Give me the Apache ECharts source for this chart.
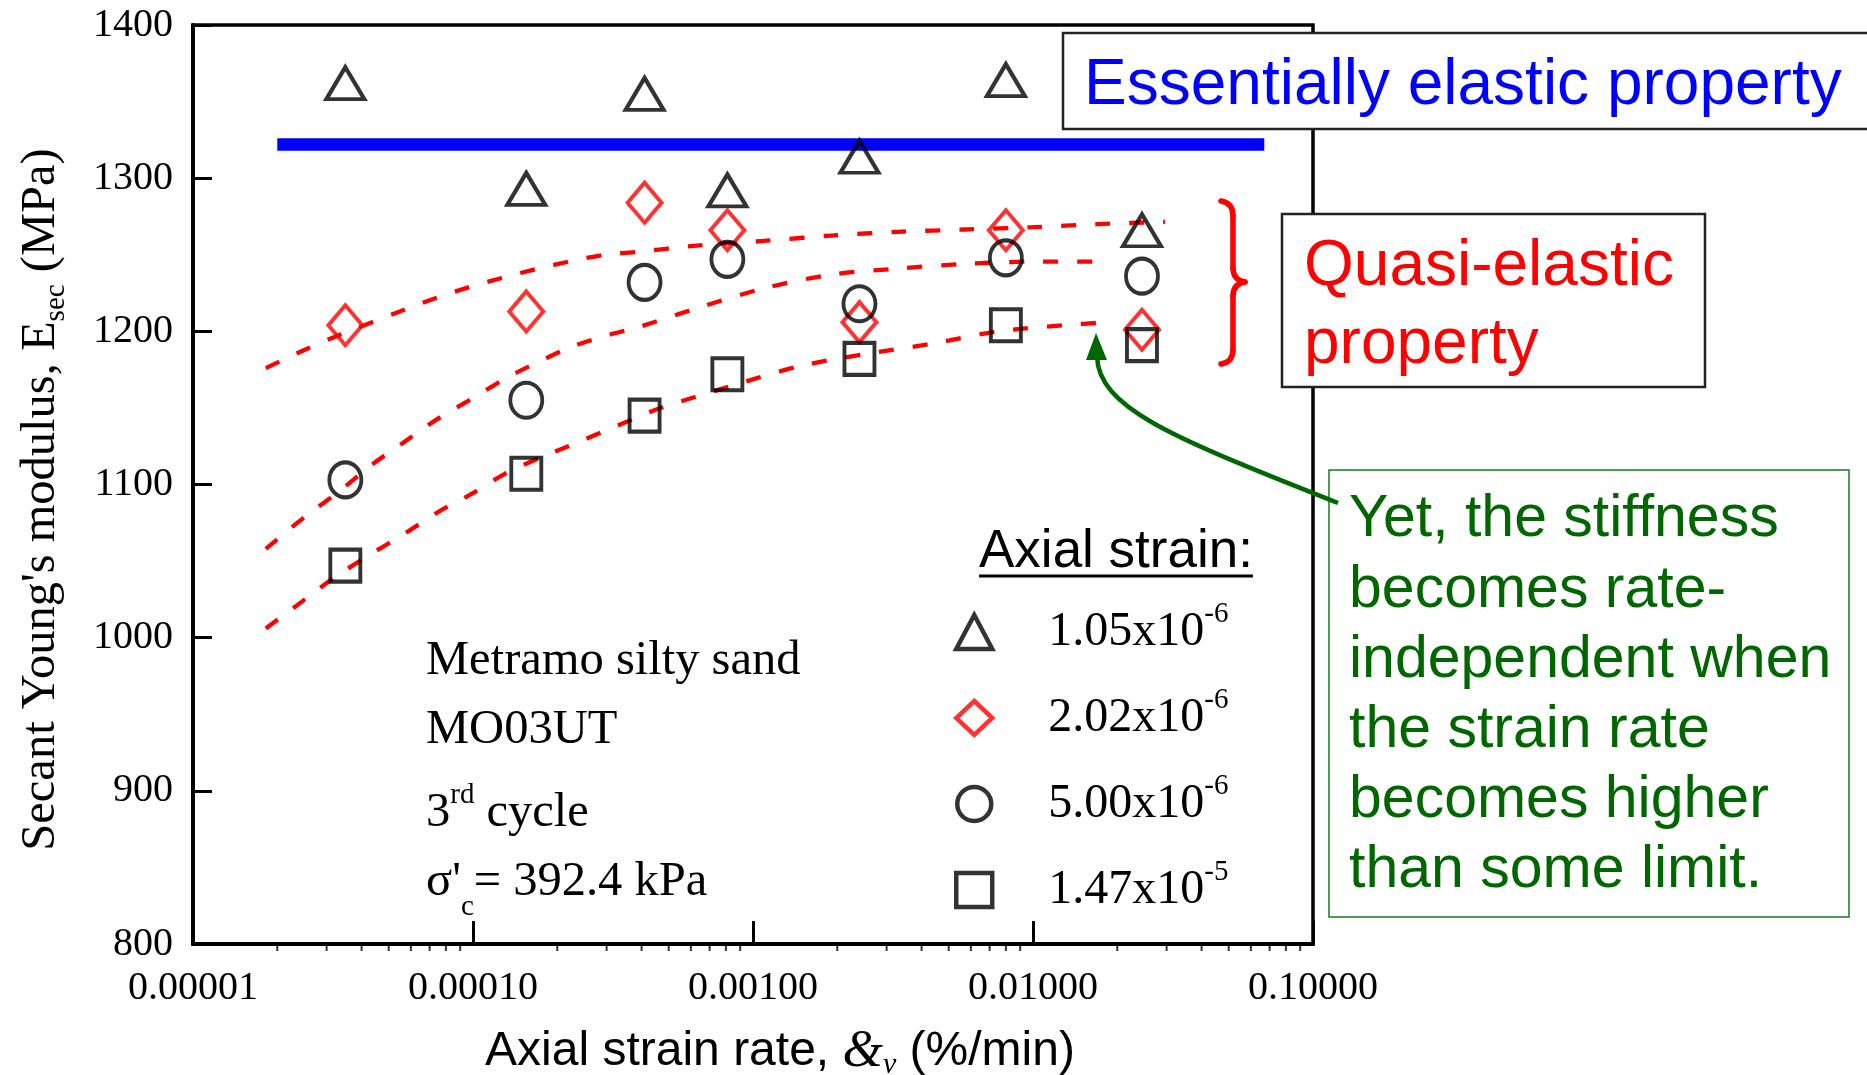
<!DOCTYPE html>
<html><head><meta charset="utf-8">
<script src="https://cdn.jsdelivr.net/npm/echarts@6/dist/echarts.min.js"></script>
<style>html,body{margin:0;padding:0;background:#fff}#c{width:1867px;height:1075px}</style>
</head><body><div id="c"></div>
<script>
// ---- data ----
const strainRates = [3.5e-5, 1.55e-4, 4.1e-4, 8.1e-4, 2.4e-3, 8.0e-3, 2.45e-2];
const eTriangle = [1362, 1293, 1355, 1292, 1314, 1364, 1266]; // 1.05x10^-6
const eDiamond  = [1204, 1213, 1284, 1266, 1206, 1266, 1201]; // 2.02x10^-6
const eCircle   = [1103, 1155, 1232, 1247, 1218, 1248, 1236]; // 5.00x10^-6
const eSquare   = [1047, 1107, 1145, 1172, 1182, 1204, 1191]; // 1.47x10^-5

// dashed trend curves
const fitAx = [1.82e-5, 2.51e-5, 3.27e-5, 4.36e-5, 5.48e-5, 7.43e-5, 9.75e-5, 1.28e-4, 1.71e-4, 2.26e-4, 2.96e-4, 3.94e-4, 6.29e-4, 1.09e-3, 1.90e-3, 3.30e-3, 5.74e-3, 9.98e-3, 1.71e-2, 2.96e-2];
const fitAy = [1176, 1188, 1197, 1206, 1213, 1222, 1229, 1235, 1241, 1246, 1250, 1252, 1256, 1259, 1262.5, 1265, 1266.5, 1268, 1270, 1271.5];
const fitBx = [1.82e-5, 2.51e-5, 3.30e-5, 4.36e-5, 5.71e-5, 7.50e-5, 9.91e-5, 1.30e-4, 1.71e-4, 2.26e-4, 2.96e-4, 3.94e-4, 6.29e-4, 1.09e-3, 1.90e-3, 3.30e-3, 5.74e-3, 9.98e-3, 1.86e-2];
const fitBy = [1058, 1079, 1095, 1113, 1128, 1143, 1156, 1169, 1180, 1190, 1197, 1203, 1215, 1228, 1237, 1241, 1244, 1245.5, 1245.5];
const fitCx = [1.82e-5, 2.51e-5, 3.30e-5, 4.36e-5, 5.71e-5, 7.50e-5, 9.91e-5, 1.30e-4, 1.71e-4, 2.26e-4, 2.96e-4, 3.88e-4, 4.68e-4, 8.24e-4, 1.45e-3, 2.49e-3, 4.39e-3, 7.50e-3, 1.29e-2, 1.88e-2];
const fitCy = [1006, 1025, 1041, 1055, 1068, 1082, 1094, 1107, 1117, 1126, 1135, 1144, 1150, 1164, 1177, 1185, 1192, 1200, 1204, 1206];

const elasticLineX = [2.0e-5, 6.7e-2];
const elasticLineY = [1322, 1322];

const legendNames = ['1.05x10^-6', '2.02x10^-6', '5.00x10^-6', '1.47x10^-5'];
const legendColors = ['#000', '#ff0000', '#000', '#000'];
const xTickDecades = [1e-5, 1e-4, 1e-3, 1e-2, 1e-1];
const minorMultipliers = [2, 3, 4, 5, 6, 7, 8, 9];

// ---- chart ----
const SERIF = '"Liberation Serif","Times New Roman",serif';
const SANS = '"Liberation Sans",Arial,sans-serif';
const pair = (xs, ys) => xs.map((x, i) => [x, ys[i]]);
const minorTicks = [];
xTickDecades.slice(0, -1).forEach(d => minorMultipliers.forEach(k => minorTicks.push([k * d, 800])));

const chart = echarts.init(document.getElementById('c'));
const hollow = (c) => ({ color: 'rgba(0,0,0,0)', borderColor: c, borderWidth: 4 });
const dashed = { color: '#ff0000', width: 4.3, type: [15, 19] };
const braceStyle = { stroke: '#ff0000', lineWidth: 5.5, fill: 'none', lineCap: 'round' };

chart.setOption({
  animation: false,
  backgroundColor: '#fff',
  grid: { left: 193, right: 554, top: 25, bottom: 131, containLabel: false, outerBoundsMode: 'none', show: true, borderColor: '#000', borderWidth: 3.5 },
  xAxis: {
    type: 'log', logBase: 10, min: 1e-5, max: 0.1,
    axisLine: { lineStyle: { color: '#000', width: 4 } },
    axisTick: { inside: true, length: 23, lineStyle: { color: '#000', width: 3 } },
    splitLine: { show: false },
    axisLabel: { formatter: v => Number(v).toFixed(5), fontFamily: SERIF, fontSize: 40, color: '#000', margin: 24, showMinLabel: true, showMaxLabel: true },
    name: 'Axial strain rate, {amp|&}{sub|v} (%/min)',
    nameLocation: 'middle', nameGap: 80,
    nameTextStyle: {
      fontFamily: SANS, fontSize: 48, color: '#000', padding: [0, 0, 0, 54], lineHeight: 56,
      rich: {
        amp: { fontFamily: SERIF, fontStyle: 'italic', fontSize: 52, color: '#000' },
        sub: { fontFamily: SERIF, fontStyle: 'italic', fontSize: 30, color: '#000', verticalAlign: 'bottom' }
      }
    }
  },
  yAxis: {
    type: 'value', min: 800, max: 1400, interval: 100,
    axisLine: { lineStyle: { color: '#000', width: 4 } },
    axisTick: { inside: true, length: 19, lineStyle: { color: '#000', width: 3 } },
    splitLine: { show: false },
    axisLabel: { formatter: v => String(v), fontFamily: SERIF, fontSize: 40, color: '#000', margin: 20 },
    name: "Secant Young's modulus, E{sub|sec} (MPa)",
    nameLocation: 'middle', nameRotate: 90, nameGap: 122,
    nameTextStyle: {
      fontFamily: SERIF, fontSize: 48.5, color: '#000', padding: [0, 30, 0, 0], lineHeight: 60,
      rich: { sub: { fontFamily: SERIF, fontSize: 29, color: '#000', verticalAlign: 'bottom' } }
    }
  },
  legend: {
    data: legendNames.map((n, i) => ({ name: n, itemStyle: { color: 'rgba(0,0,0,0)', borderColor: legendColors[i], borderWidth: 4.5 } })),
    orient: 'vertical', left: 949, top: 595,
    itemWidth: 36, itemHeight: 34, itemGap: 30, selectedMode: false,
    formatter: n => { const [b, e] = n.split('^'); return '{gap|}{b|' + b + '}{sup|' + e + '}'; },
    textStyle: {
      rich: {
        gap: { width: 51 },
        b: { fontFamily: SERIF, fontSize: 48, color: '#000', lineHeight: 64 },
        sup: { fontFamily: SERIF, fontSize: 29, color: '#000', verticalAlign: 'top' }
      }
    }
  },
  series: [
    { type: 'line', data: pair(elasticLineX, elasticLineY), symbol: 'none', lineStyle: { color: '#0000ff', width: 12.5 }, silent: true, z: 1 },
    { type: 'line', data: pair(fitAx, fitAy), smooth: 0.3, symbol: 'none', lineStyle: dashed, silent: true, z: 1 },
    { type: 'line', data: pair(fitBx, fitBy), smooth: 0.3, symbol: 'none', lineStyle: dashed, silent: true, z: 1 },
    { type: 'line', data: pair(fitCx, fitCy), smooth: 0.3, symbol: 'none', lineStyle: dashed, silent: true, z: 1 },
    { name: legendNames[0], type: 'scatter', data: pair(strainRates, eTriangle), symbol: 'triangle', symbolSize: [38, 32], itemStyle: hollow('#000'), z: 3 },
    { name: legendNames[1], type: 'scatter', data: pair(strainRates, eDiamond), symbol: 'diamond', symbolSize: [34, 40], itemStyle: hollow('#ff0000'), z: 3 },
    { name: legendNames[2], type: 'scatter', data: pair(strainRates, eCircle), symbol: 'circle', symbolSize: [32, 35], itemStyle: hollow('#000'), z: 3 },
    { name: legendNames[3], type: 'scatter', data: pair(strainRates, eSquare), symbol: 'rect', symbolSize: [30, 32], itemStyle: hollow('#000'), z: 3 },
    { type: 'scatter', data: minorTicks, symbol: 'rect', symbolSize: [2, 8], symbolOffset: [0, 3], itemStyle: { color: '#000' }, silent: true, clip: false, z: 2 }
  ],
  graphic: [
    // left-hand annotation
    { type: 'text', x: 426, y: 637, style: { text: 'Metramo silty sand', font: '48.5px ' + SERIF, fill: '#000' } },
    { type: 'text', x: 426, y: 706, style: { text: 'MO03UT', font: '48.5px ' + SERIF, fill: '#000' } },
    { type: 'text', x: 426, y: 781, style: { text: '{b|3}{sup|rd}{b| cycle}', rich: { b: { font: '48.5px ' + SERIF, fill: '#000', lineHeight: 64 }, sup: { font: '29px ' + SERIF, fill: '#000', verticalAlign: 'top' } } } },
    { type: 'text', x: 426, y: 842, style: { text: "{b|σ'}{sub|c}{b|= 392.4 kPa}", rich: { b: { font: '48.5px ' + SERIF, fill: '#000', lineHeight: 60 }, sub: { font: '29px ' + SERIF, fill: '#000', verticalAlign: 'bottom', lineHeight: 80 } } } },
    // legend title
    { type: 'text', x: 979, y: 526, style: { text: 'Axial strain:', font: '53px ' + SANS, fill: '#000' } },
    { type: 'line', shape: { x1: 979, y1: 576, x2: 1253, y2: 576 }, style: { stroke: '#000', lineWidth: 3 } },
    // essentially elastic box
    { type: 'rect', shape: { x: 1063, y: 33, width: 830, height: 96 }, style: { fill: '#fff', stroke: '#222', lineWidth: 2.5 }, z: 10 },
    { type: 'text', x: 1084, y: 54, style: { text: 'Essentially elastic property', font: '64px ' + SANS, fill: '#0000ff' }, z: 11 },
    // quasi-elastic box
    { type: 'rect', shape: { x: 1282, y: 214, width: 423, height: 173 }, style: { fill: '#fff', stroke: '#222', lineWidth: 2.5 }, z: 10 },
    { type: 'text', x: 1304, y: 228, style: { text: 'Quasi-elastic\nproperty', font: '64px ' + SANS, fill: '#ff0000', lineHeight: 78 }, z: 11 },
    // brace
    { type: 'bezierCurve', shape: { x1: 1221, y1: 201, cpx1: 1233, cpy1: 203, x2: 1233, y2: 216 }, style: braceStyle, z: 10 },
    { type: 'line', shape: { x1: 1233, y1: 216, x2: 1233, y2: 268 }, style: braceStyle, z: 10 },
    { type: 'bezierCurve', shape: { x1: 1233, y1: 268, cpx1: 1233, cpy1: 280, x2: 1245, y2: 282 }, style: braceStyle, z: 10 },
    { type: 'bezierCurve', shape: { x1: 1245, y1: 282, cpx1: 1233, cpy1: 284, x2: 1233, y2: 296 }, style: braceStyle, z: 10 },
    { type: 'line', shape: { x1: 1233, y1: 296, x2: 1233, y2: 350 }, style: braceStyle, z: 10 },
    { type: 'bezierCurve', shape: { x1: 1233, y1: 350, cpx1: 1233, cpy1: 362, x2: 1221, y2: 364 }, style: braceStyle, z: 10 },
    // green note box
    { type: 'rect', shape: { x: 1329, y: 470, width: 520, height: 447 }, style: { fill: '#fff', stroke: '#1a7a1a', lineWidth: 1.5 }, z: 10 },
    { type: 'text', x: 1349, y: 485, style: { text: 'Yet, the stiffness\nbecomes rate-\nindependent when\nthe strain rate\nbecomes higher\nthan some limit.', font: '59px ' + SANS, fill: '#006600', lineHeight: 70.2 }, z: 11 },
    // green arrow
    { type: 'bezierCurve', shape: { x1: 1338, y1: 503, cpx1: 1180, cpy1: 440, cpx2: 1098, cpy2: 410, x2: 1097, y2: 356 }, style: { fill: 'none', stroke: '#006600', lineWidth: 4.5 }, z: 12 },
    { type: 'polygon', shape: { points: [[1096, 333], [1086, 360], [1107, 360]] }, style: { fill: '#006600' }, z: 12 }
  ]
});
</script></body></html>
